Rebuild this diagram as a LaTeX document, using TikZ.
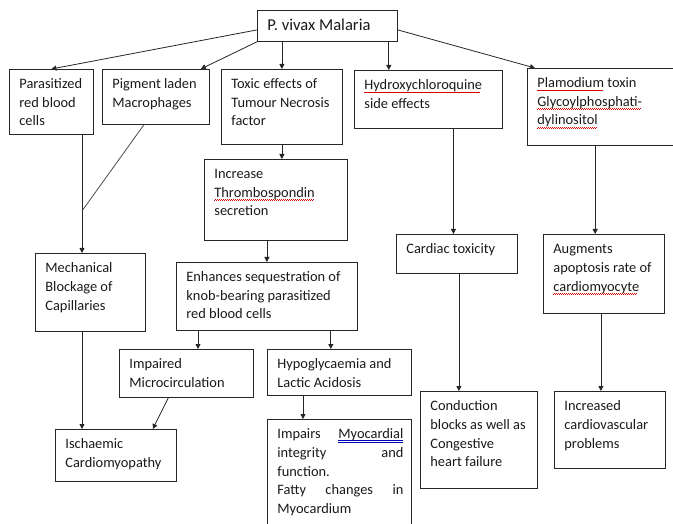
\documentclass[tikz,border=0pt]{standalone}
\usepackage{fontspec}
\setmainfont{Carlito}
\usetikzlibrary{arrows.meta}

% text block of a fixed box: width, height, text (lines broken by hand)
\newcommand{\boxtext}[3]{\parbox[c][#2][t]{#1}{\raggedright
  \leftskip=10pt\rightskip=8pt plus 1fil\rule{0pt}{19pt}#3}}
% spell-check marks
\newcommand{\spell}[1]{\leavevmode\setbox0=\hbox{#1}\rlap{\color{red!85!black}\hbox to\wd0{\leaders
  \hbox{\rule[-3.6pt]{1pt}{0.55pt}\rule[-2.8pt]{1pt}{0.55pt}}\hfill}}\box0\relax}
\newcommand{\gram}[1]{\leavevmode\setbox0=\hbox{#1}\rlap{\color{blue!70!black}\hbox to\wd0{\leaders
  \hbox{\rlap{\rule[-2.4pt]{1pt}{0.4pt}}\rule[-3.6pt]{1pt}{0.4pt}}\hfill}}\box0\relax}

\tikzset{
  box/.style={draw=black!85, line width=0.8pt, anchor=north west, inner sep=0pt,
    text=black!90, font=\fontsize{14.4}{18.8}\selectfont},
  arr/.style={draw=black!85, line width=0.8pt, -{Triangle[width=5pt,length=5pt]}},
}

\begin{document}
\begin{tikzpicture}[x=1pt,y=-1pt]
  \useasboundingbox (0,0) rectangle (673,524);
  \clip (0,0) rectangle (673,524);

  \node[box, font=\fontsize{16.6}{20}\selectfont] (vivax) at (257,10)
    {\parbox[c][31pt][t]{140pt}{\leftskip=10pt\rule{0pt}{20pt}P. vivax Malaria}};

  % first row
  \node[box] (parasit) at (9,69)   {\boxtext{84pt}{65pt}{Parasitized\\red blood\\cells}};
  \node[box] (pigment) at (102,69) {\boxtext{107pt}{55pt}{Pigment laden\\Macrophages}};
  \node[box] (toxic)   at (221,69) {\boxtext{121pt}{75pt}{Toxic effects of\\Tumour Necrosis\\factor}};
  \node[box] (hydroxy) at (354,70) {\boxtext{148pt}{58pt}{\spell{Hydroxychloroquine}\\side effects}};
  \node[box] (plam)    at (527,68) {\boxtext{145.5pt}{77pt}{\spell{Plamodium} toxin\\\spell{Glycoylphosphati-}\\\spell{dylinositol}}};

  % middle
  \node[box] (thromb)  at (204,159) {\boxtext{143pt}{81pt}{Increase\\\spell{Thrombospondin}\\secretion}};
  \node[box] (mech)    at (35,253)  {\boxtext{110pt}{78pt}{Mechanical\\Blockage of\\Capillaries}};
  \node[box] (enh)     at (176,262) {\boxtext{181pt}{68pt}{Enhances sequestration of\\knob-bearing parasitized\\red blood cells}};
  \node[box] (cardiac) at (396,234) {\boxtext{121pt}{39pt}{Cardiac toxicity}};
  \node[box] (aug)     at (543,234) {\boxtext{121pt}{79pt}{Augments\\apoptosis rate of\\\spell{cardiomyocyte}}};

  % bottom
  \node[box] (imp)     at (119,349) {\boxtext{134pt}{48pt}{Impaired\\Microcirculation}};
  \node[box] (hypo)    at (267,349) {\boxtext{144pt}{46pt}{Hypoglycaemia and\\Lactic Acidosis}};
  \node[box] (isch)    at (55,429)  {\boxtext{121pt}{52pt}{Ischaemic\\Cardiomyopathy}};
  \node[box] (impairs) at (267,419) {\boxtext{144pt}{120pt}{Impairs\hfill\gram{Myocardial}\\integrity\hfill and\\function.\\Fatty\hfill changes\hfill in\\Myocardium}};
  \node[box] (cond)    at (420,391) {\boxtext{117pt}{97pt}{Conduction\\blocks as well as\\Congestive\\heart failure}};
  \node[box] (incr)    at (554,391) {\boxtext{111pt}{77pt}{Increased\\cardiovascular\\problems}};

  \coordinate (joint) at (82,211);

  % connectors
  \draw[arr] ([yshift=-4pt]vivax.west) -- (parasit.north);
  \draw[arr] (vivax.south west) -- ([xshift=-9pt]pigment.north east);
  \draw[arr] (vivax.south -| toxic.north) -- (toxic.north);
  \draw[arr] ([xshift=-9pt]vivax.south east) -- ([xshift=-9pt]vivax.south east |- hydroxy.north);
  \draw[arr] ([yshift=-4pt]vivax.east) -- ([xshift=8pt]plam.north west);
  \draw[arr] (joint |- parasit.south) -- (joint |- mech.north);
  \draw[draw=black!70, line width=0.8pt] ([xshift=-12pt]pigment.south) -- (joint);
  \draw[arr] (toxic.south) -- (toxic.south |- thromb.north);
  \draw[arr] (enh.north |- thromb.south) -- (enh.north);
  \draw[arr] ([xshift=22pt]enh.south west) -- ([xshift=22pt]enh.south west |- imp.north);
  \draw[arr] ([xshift=-27pt]enh.south east) -- ([xshift=-27pt]enh.south east |- hypo.north);
  \draw[arr] (joint |- mech.south) -- (joint |- isch.north);
  \draw[arr] ([xshift=-18pt]imp.south) -- ([xshift=-24pt]isch.north east);
  \draw[arr] ([xshift=36pt]hypo.south west) -- ([xshift=36pt]hypo.south west |- impairs.north);
  \draw[arr] ([xshift=25pt]hydroxy.south) -- ([xshift=25pt]hydroxy.south |- cardiac.north);
  \draw[arr] ([xshift=-5pt]plam.south) -- ([xshift=-5pt]plam.south |- aug.north);
  \draw[arr] ([xshift=2pt]cardiac.south) -- ([xshift=2pt]cardiac.south |- cond.north);
  \draw[arr] ([xshift=-3pt]aug.south) -- ([xshift=-3pt]aug.south |- incr.north);
\end{tikzpicture}
\end{document}
